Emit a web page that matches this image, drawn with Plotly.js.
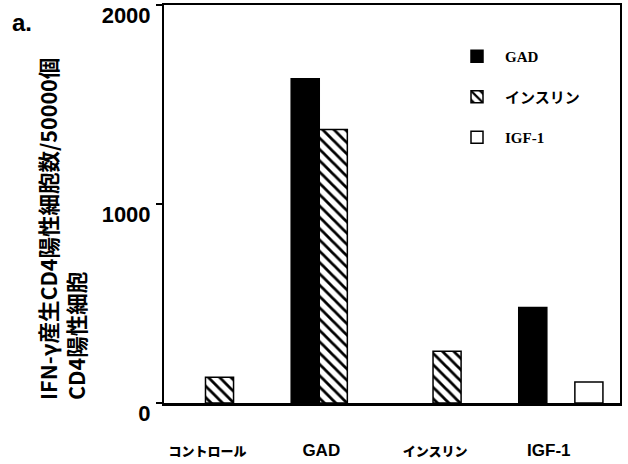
<!DOCTYPE html>
<html>
<head>
<meta charset="utf-8">
<script src="https://cdn.plot.ly/plotly-3.0.1.min.js"></script>
<style>html,body{margin:0;padding:0;background:#fff;}#chart{width:628px;height:464px;}</style>
</head>
<body>
<div id="chart"></div>
<script>
const categories = ['コントロール', 'GAD', 'インスリン', 'IGF-1'];
const gadValues = [null, 1630, null, 480];
const insulinValues = [130, 1375, 260, null];
const igf1Values = [null, null, null, 105];
const seriesNames = ['GAD', 'インスリン', 'IGF-1'];
const yTickVals = [0, 1000, 2000];
const yTitleLines = ['IFN-γ産生CD4陽性細胞数/50000個', 'CD4陽性細胞'];

const jpSans = 'Liberation Sans, Arial, Noto Sans CJK JP, sans-serif';
const legendFont = 'Liberation Serif, Noto Sans CJK JP, serif';

// katakana labels drawn smaller than latin ones, as in the reference
const isKana = s => /[\u30A0-\u30FF]/.test(s);
const tickText = categories.map(c => isKana(c)
  ? '<span style="font-size:13px;font-weight:900">' + c + '</span>' : c);

const traces = [
  {
    type: 'bar', name: seriesNames[0], x: categories, y: gadValues,
    legendgroup: 'g1',
    marker: {color: '#000', line: {color: '#000', width: 1.5}}
  },
  {
    type: 'bar', name: seriesNames[1], x: categories, y: insulinValues,
    legendgroup: 'g2',
    marker: {color: '#fff', line: {color: '#000', width: 1.5},
      pattern: {shape: '\\', fgcolor: '#000', bgcolor: '#fff', size: 8, solidity: 0.35}}
  },
  {
    type: 'bar', name: seriesNames[2], x: categories, y: igf1Values,
    legendgroup: 'g3',
    marker: {color: '#fff', line: {color: '#000', width: 1.5}}
  }
];

const L = 164, R = 8, T = 5, B = 61;
const W = 628, H = 464;
const pw = W - L - R, ph = H - T - B;
const px = v => (v - L) / pw;
const py = v => (H - B - v) / ph;

const layout = {
  width: W, height: H,
  margin: {l: L, r: R, t: T, b: B, pad: 0},
  paper_bgcolor: '#fff', plot_bgcolor: '#fff',
  barmode: 'group', bargap: 0.26, bargroupgap: 0,
  showlegend: true,
  legend: {
    x: px(449), y: py(40), xanchor: 'left', yanchor: 'top',
    font: {family: legendFont, size: 15, color: '#000', weight: 'bold'},
    traceorder: 'grouped', tracegroupgap: 18, itemwidth: 46,
    bgcolor: 'rgba(0,0,0,0)', borderwidth: 0
  },
  xaxis: {
    type: 'category', range: [-0.488, 3.52],
    tickvals: categories, ticktext: tickText,
    showline: true, mirror: true, linecolor: '#000', linewidth: 2.5,
    ticks: '', showgrid: false, zeroline: false,
    tickfont: {family: jpSans, size: 17, color: '#000', weight: 'bold'},
    ticklabelstandoff: 30, ticklabelshift: -12
  },
  yaxis: {
    range: [0, 2000], tickvals: yTickVals,
    showline: true, mirror: true, linecolor: '#000', linewidth: 2,
    ticks: 'outside', ticklen: 6, tickwidth: 1.5, tickcolor: '#000',
    showgrid: false, zeroline: false,
    tickfont: {family: 'Liberation Sans, Arial, sans-serif', size: 22, color: '#000', weight: 'bold'},
    ticklabelshift: 10, ticklabelstandoff: 1
  },
  annotations: [
    {
      text: 'a.', xref: 'paper', yref: 'paper', x: px(22), y: py(22),
      xanchor: 'center', yanchor: 'middle', showarrow: false,
      font: {family: 'Liberation Sans, Arial, sans-serif', size: 24, color: '#000', weight: 'bold'}
    },
    {
      text: yTitleLines.join('<br>'), xref: 'paper', yref: 'paper',
      x: px(61), y: py(229), xanchor: 'center', yanchor: 'middle',
      textangle: -90, align: 'left', showarrow: false,
      font: {family: 'Noto Sans CJK JP, sans-serif', size: 21.5, color: '#000', weight: 'bold'}
    }
  ]
};

Plotly.newPlot('chart', traces, layout, {displayModeBar: false, staticPlot: true});
</script>
</body>
</html>
